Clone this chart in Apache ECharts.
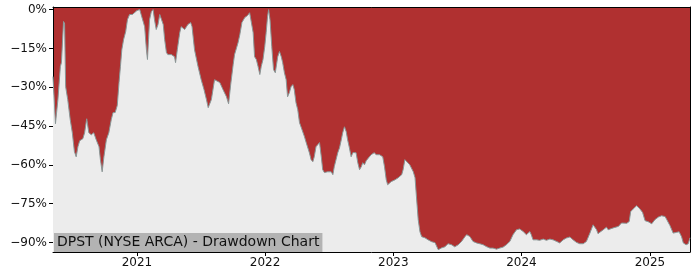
<!DOCTYPE html>
<html>
<head>
<meta charset="utf-8">
<script src="https://cdn.jsdelivr.net/npm/echarts@6/dist/echarts.min.js"></script>
<style>
html,body{margin:0;padding:0;background:#fff;}
#chart{width:700px;height:280px;}
</style>
</head>
<body>
<div id="chart"></div>
<script>
const dates = [
"2020-05-07","2020-05-14","2020-05-21","2020-05-28","2020-05-31","2020-06-06","2020-06-09","2020-06-12","2020-06-18","2020-06-25",
"2020-07-01","2020-07-07","2020-07-12","2020-07-17","2020-07-22","2020-07-26","2020-07-31","2020-08-05","2020-08-11","2020-08-17",
"2020-08-24","2020-08-31","2020-09-07","2020-09-15","2020-09-19","2020-09-24","2020-09-29","2020-10-06","2020-10-13","2020-10-20",
"2020-10-25","2020-10-31","2020-11-06","2020-11-11","2020-11-15","2020-11-19","2020-11-24","2020-11-30","2020-12-05","2020-12-11",
"2020-12-19","2020-12-25","2021-01-01","2021-01-09","2021-01-13","2021-01-23","2021-01-28","2021-01-31","2021-02-03","2021-02-06",
"2021-02-11","2021-02-16","2021-02-20","2021-02-25","2021-03-02","2021-03-07","2021-03-12","2021-03-17","2021-03-21","2021-03-26",
"2021-03-30","2021-04-09","2021-04-18","2021-04-21","2021-04-26","2021-05-03","2021-05-07","2021-05-17","2021-05-26","2021-06-03",
"2021-06-07","2021-06-14","2021-06-24","2021-07-03","2021-07-11","2021-07-18","2021-07-23","2021-08-01","2021-08-10","2021-08-15",
"2021-08-25","2021-09-03","2021-09-13","2021-09-19","2021-09-25","2021-10-02","2021-10-06","2021-10-16","2021-10-21","2021-10-27",
"2021-11-04","2021-11-12","2021-11-18","2021-11-23","2021-11-28","2021-12-02","2021-12-07","2021-12-12","2021-12-17","2021-12-21",
"2021-12-26","2021-12-31","2022-01-04","2022-01-08","2022-01-11","2022-01-15","2022-01-20","2022-01-25","2022-01-30","2022-02-06",
"2022-02-11","2022-02-16","2022-02-20","2022-02-25","2022-03-02","2022-03-06","2022-03-11","2022-03-16","2022-03-21","2022-03-25",
"2022-03-30","2022-04-04","2022-04-09","2022-04-14","2022-04-18","2022-04-23","2022-04-28","2022-05-02","2022-05-07","2022-05-12",
"2022-05-17","2022-05-21","2022-05-26","2022-05-31","2022-06-05","2022-06-10","2022-06-14","2022-06-19","2022-06-28","2022-07-08",
"2022-07-13","2022-07-17","2022-07-22","2022-07-27","2022-08-01","2022-08-06","2022-08-10","2022-08-15","2022-08-20","2022-08-24",
"2022-08-29","2022-09-03","2022-09-08","2022-09-12","2022-09-17","2022-09-22","2022-09-27","2022-10-02","2022-10-06","2022-10-11",
"2022-10-16","2022-10-25","2022-10-30","2022-11-08","2022-11-13","2022-11-23","2022-12-02","2022-12-07","2022-12-12","2022-12-16",
"2022-12-26","2023-01-06","2023-01-15","2023-01-25","2023-01-29","2023-02-03","2023-02-08","2023-02-17","2023-02-27","2023-03-04",
"2023-03-08","2023-03-13","2023-03-18","2023-03-23","2023-04-01","2023-04-10","2023-04-20","2023-04-30","2023-05-09","2023-05-19",
"2023-05-28","2023-06-06","2023-06-16","2023-06-25","2023-07-05","2023-07-14","2023-07-24","2023-07-29","2023-08-07","2023-08-16",
"2023-08-26","2023-09-04","2023-09-14","2023-09-23","2023-10-03","2023-10-12","2023-10-22","2023-10-26","2023-10-31","2023-11-10",
"2023-11-19","2023-11-29","2023-12-08","2023-12-18","2023-12-27","2024-01-06","2024-01-15","2024-01-20","2024-01-25","2024-01-29",
"2024-02-03","2024-02-13","2024-02-22","2024-03-03","2024-03-12","2024-03-22","2024-03-31","2024-04-10","2024-04-19","2024-04-29",
"2024-05-08","2024-05-18","2024-05-27","2024-06-06","2024-06-15","2024-06-25","2024-07-04","2024-07-14","2024-07-23","2024-07-28",
"2024-08-02","2024-08-06","2024-08-11","2024-08-21","2024-08-30","2024-09-04","2024-09-09","2024-09-18","2024-09-23","2024-10-03",
"2024-10-12","2024-10-17","2024-10-27","2024-11-03","2024-11-07","2024-11-14","2024-11-24","2024-12-03","2024-12-11","2024-12-18",
"2024-12-27","2025-01-06","2025-01-10","2025-01-15","2025-01-25","2025-02-03","2025-02-13","2025-02-18","2025-02-27","2025-03-08",
"2025-03-18","2025-03-25","2025-04-01","2025-04-06","2025-04-14","2025-04-20","2025-04-25"
];
const drawdown = [
-25.9,-44.1,-34.8,-22.0,-20.5,-4.6,-5.4,-29.8,-34.8,-42.5,
-47.6,-54.9,-56.9,-53.0,-50.7,-51.4,-49.9,-47.6,-42.2,-47.6,
-48.4,-47.6,-50.3,-53.0,-58.0,-62.7,-56.9,-50.3,-47.6,-42.5,
-39.8,-39.8,-37.1,-28.2,-22.0,-15.5,-11.6,-8.5,-3.9,-1.9,
-1.9,-1.2,-0.4,0.0,-1.9,-6.6,-15.5,-19.3,-11.6,-3.9,
-0.8,0.0,-3.9,-7.7,-5.8,-1.9,-1.2,-5.8,-11.6,-16.6,
-17.4,-17.4,-18.2,-20.5,-15.5,-8.9,-6.6,-7.7,-5.8,-5.0,
-6.6,-15.5,-22.0,-27.1,-30.9,-34.8,-37.9,-34.8,-27.1,-27.1,
-28.2,-30.9,-33.7,-36.4,-29.0,-21.3,-17.4,-12.8,-9.7,-5.0,
-3.1,-2.3,-1.2,-1.9,-8.9,-18.2,-19.3,-22.0,-25.1,-22.0,
-19.3,-14.3,-8.9,-2.7,0.0,-3.9,-14.3,-23.2,-24.4,-18.2,
-16.2,-18.2,-20.5,-24.4,-27.1,-33.7,-32.1,-29.8,-29.0,-30.9,
-36.0,-38.7,-43.7,-45.6,-45.6,-49.1,-51.4,-51.4,-55.3,-58.0,
-58.8,-56.9,-53.0,-52.2,-51.4,-56.9,-61.9,-63.0,-62.7,-62.7,
-63.8,-60.7,-58.0,-55.3,-53.4,-50.3,-47.6,-45.3,-47.2,-50.3,
-53.4,-56.9,-55.3,-54.9,-55.3,-59.2,-61.9,-60.7,-59.2,-60.0,
-58.4,-56.9,-56.1,-55.3,-56.1,-56.1,-56.9,-60.7,-65.8,-67.7,
-66.5,-65.8,-65.0,-63.8,-61.9,-58.0,-58.0,-60.0,-62.7,-65.0,
-72.3,-81.2,-85.9,-87.8,-88.2,-89.0,-89.7,-90.1,-92.8,-92.1,
-91.7,-90.5,-90.9,-91.7,-90.9,-89.7,-87.8,-87.0,-87.7,-89.6,
-90.2,-90.5,-90.9,-91.6,-92.2,-92.2,-92.6,-93.1,-92.2,-91.8,
-90.9,-89.6,-87.0,-85.1,-84.8,-85.8,-87.0,-86.4,-85.8,-87.0,
-89.0,-89.0,-89.2,-88.7,-89.2,-88.7,-89.0,-89.6,-90.2,-89.0,
-88.3,-87.9,-89.0,-90.0,-90.5,-90.5,-89.6,-86.4,-83.2,-82.5,
-85.1,-86.6,-86.6,-85.1,-84.1,-85.1,-85.5,-84.4,-85.1,-83.8,
-82.5,-82.8,-82.6,-81.9,-78.1,-77.1,-75.8,-77.0,-78.4,-81.6,
-82.0,-82.8,-83.2,-81.2,-80.2,-79.7,-80.0,-81.2,-83.5,-86.4,
-86.1,-85.9,-87.8,-90.2,-90.9,-90.5,-88.2
];
const yTicks = [0, -15, -30, -45, -60, -75, -90];
const xTickYears = [2021, 2022, 2023, 2024, 2025];
const titleText = "DPST (NYSE ARCA) - Drawdown Chart";

function toTime(s) {
  const p = s.split('-').map(Number);
  return new Date(p[0], p[1] - 1, p[2]).getTime();
}
const times = dates.map(toTime);
const seriesData = times.map((t, i) => [t, drawdown[i]]);
const xTickValues = xTickYears.map(y => new Date(y, 0, 1).getTime());
const xMin = times[0], xMax = times[times.length - 1];
const yMin = -93.7, yMax = 1.0;
const font = 'DejaVu Sans';

const chart = echarts.init(document.getElementById('chart'), null, {renderer: 'canvas'});
chart.setOption({
  animation: false,
  backgroundColor: '#ffffff',
  grid: {left: 53, right: 10, top: 7, bottom: 28, show: true, backgroundColor: '#b03030', borderColor: '#000', borderWidth: 0},
  title: {
    text: titleText, left: 54, top: 233,
    padding: [2, 3, 2, 3], backgroundColor: '#b3b3b3',
    textStyle: {fontFamily: font, fontSize: 14, fontWeight: 'normal', color: '#111', lineHeight: 15}
  },
  xAxis: [{
    type: 'value', min: xMin, max: xMax,
    axisLine: {show: true, onZero: false, lineStyle: {color: '#000', width: 1}},
    axisTick: {show: true, length: 4, lineStyle: {color: '#000'}, customValues: xTickValues},
    axisLabel: {fontFamily: font, fontSize: 12, color: '#111', margin: 5, customValues: xTickValues,
      formatter: v => String(new Date(v).getFullYear())},
    splitLine: {show: false}
  }, {
    type: 'value', min: xMin, max: xMax, position: 'top',
    axisLine: {show: true, onZero: false, lineStyle: {color: '#000', width: 1}},
    axisTick: {show: false}, axisLabel: {show: false}, splitLine: {show: false}
  }],
  yAxis: [{
    type: 'value', min: yMin, max: yMax,
    axisLine: {show: true, onZero: false, lineStyle: {color: '#000', width: 1}},
    axisTick: {show: true, length: 4, lineStyle: {color: '#000'}, customValues: yTicks},
    axisLabel: {fontFamily: font, fontSize: 12, color: '#111', margin: 6, customValues: yTicks,
      formatter: v => (Math.round(v) + '%').replace('-', '\u2212')},
    splitLine: {show: false}
  }, {
    type: 'value', min: yMin, max: yMax, position: 'right',
    axisLine: {show: true, onZero: false, lineStyle: {color: '#000', width: 1}},
    axisTick: {show: false}, axisLabel: {show: false}, splitLine: {show: false}
  }],
  series: [{
    type: 'line', data: seriesData, xAxisIndex: 0, yAxisIndex: 0,
    showSymbol: false, symbol: 'none',
    lineStyle: {color: '#8a9797', width: 1},
    areaStyle: {color: '#ececec', opacity: 1, origin: 'start'},
    z: 1
  }]
});
</script>
</body>
</html>
